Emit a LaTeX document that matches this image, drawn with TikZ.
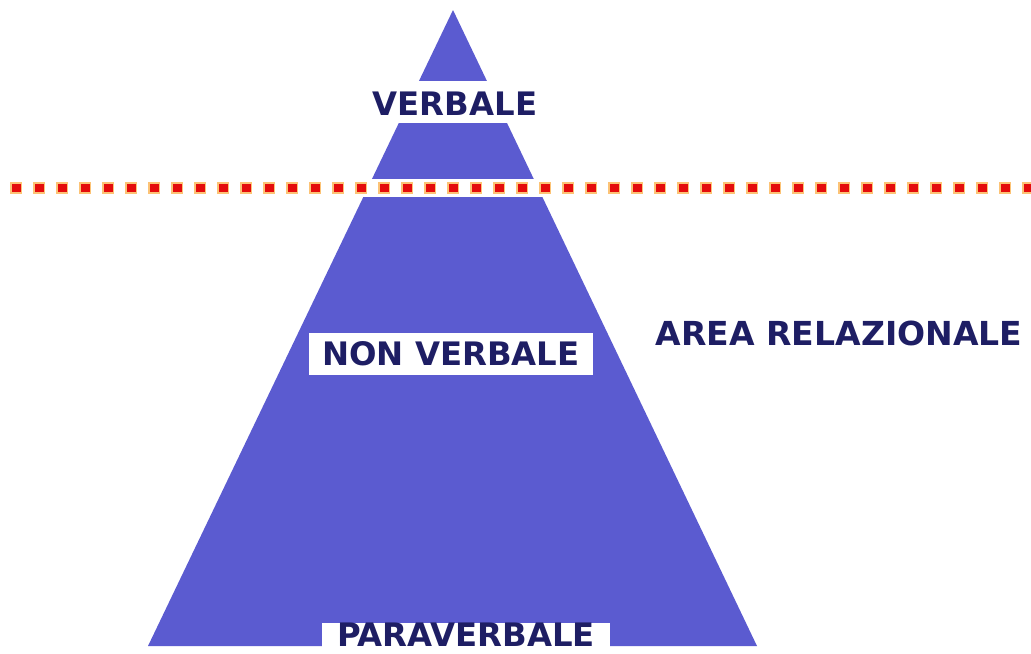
\documentclass[tikz,border=0pt]{standalone}
\usepackage{fontspec}
\setmainfont{DejaVu Sans}
\usetikzlibrary{calc,positioning}
\definecolor{pyrblue}{RGB}{91,91,208}
\definecolor{labelnavy}{RGB}{30,30,100}
\definecolor{dotred}{RGB}{228,12,12}
\definecolor{dotorange}{RGB}{252,170,60}

\begin{document}
\begin{tikzpicture}[x=0.025cm, y=-0.025cm,
	level/.style={font=\fontsize{23}{26}\selectfont\bfseries, text=labelnavy, inner sep=0pt},
	levelbox/.style={level, fill=white, minimum width=7.1cm, minimum height=1.05cm},
	cutglow/.style={dotorange, opacity=0.7, line width=0.3cm, dash pattern=on 0.3cm off 0.275cm},
	cutdot/.style={dotred, line width=0.22cm, dash pattern=on 0.22cm off 0.355cm}
	]
	\useasboundingbox (0,0) rectangle (1031,653);
	\clip (0,0) rectangle (1031,653);
	% pyramid
	\coordinate (apex) at (453,10);
	\coordinate (baseL) at (148,646);
	\coordinate (baseR) at (757,646);
	\fill[pyrblue] (apex) -- (baseL) -- (baseR) -- cycle;
	\fill[white] (0,81) rectangle (1031,123);
	\fill[white] (0,179) rectangle (1031,197);
	% dotted cut line
	\coordinate (cutL) at (10,188);
	\coordinate (cutR) at (1031,188);
	\draw[cutglow] (cutL) -- (cutR);
	\draw[cutdot] ($(cutL)+(2,0)$) -- (cutR);
	% labels
	\node [level](verbale) at (455,104) {VERBALE};
	\node [levelbox](nonverbale) at (451,354) {NON VERBALE};
	\fill[white] (322,623) rectangle (610,653);
	\node [level](paraverbale) at (466,635) {PARAVERBALE};
	\node [level, font=\fontsize{23.5}{26}\selectfont\bfseries](area) at (839,333) {AREA RELAZIONALE};
\end{tikzpicture}
\end{document}
